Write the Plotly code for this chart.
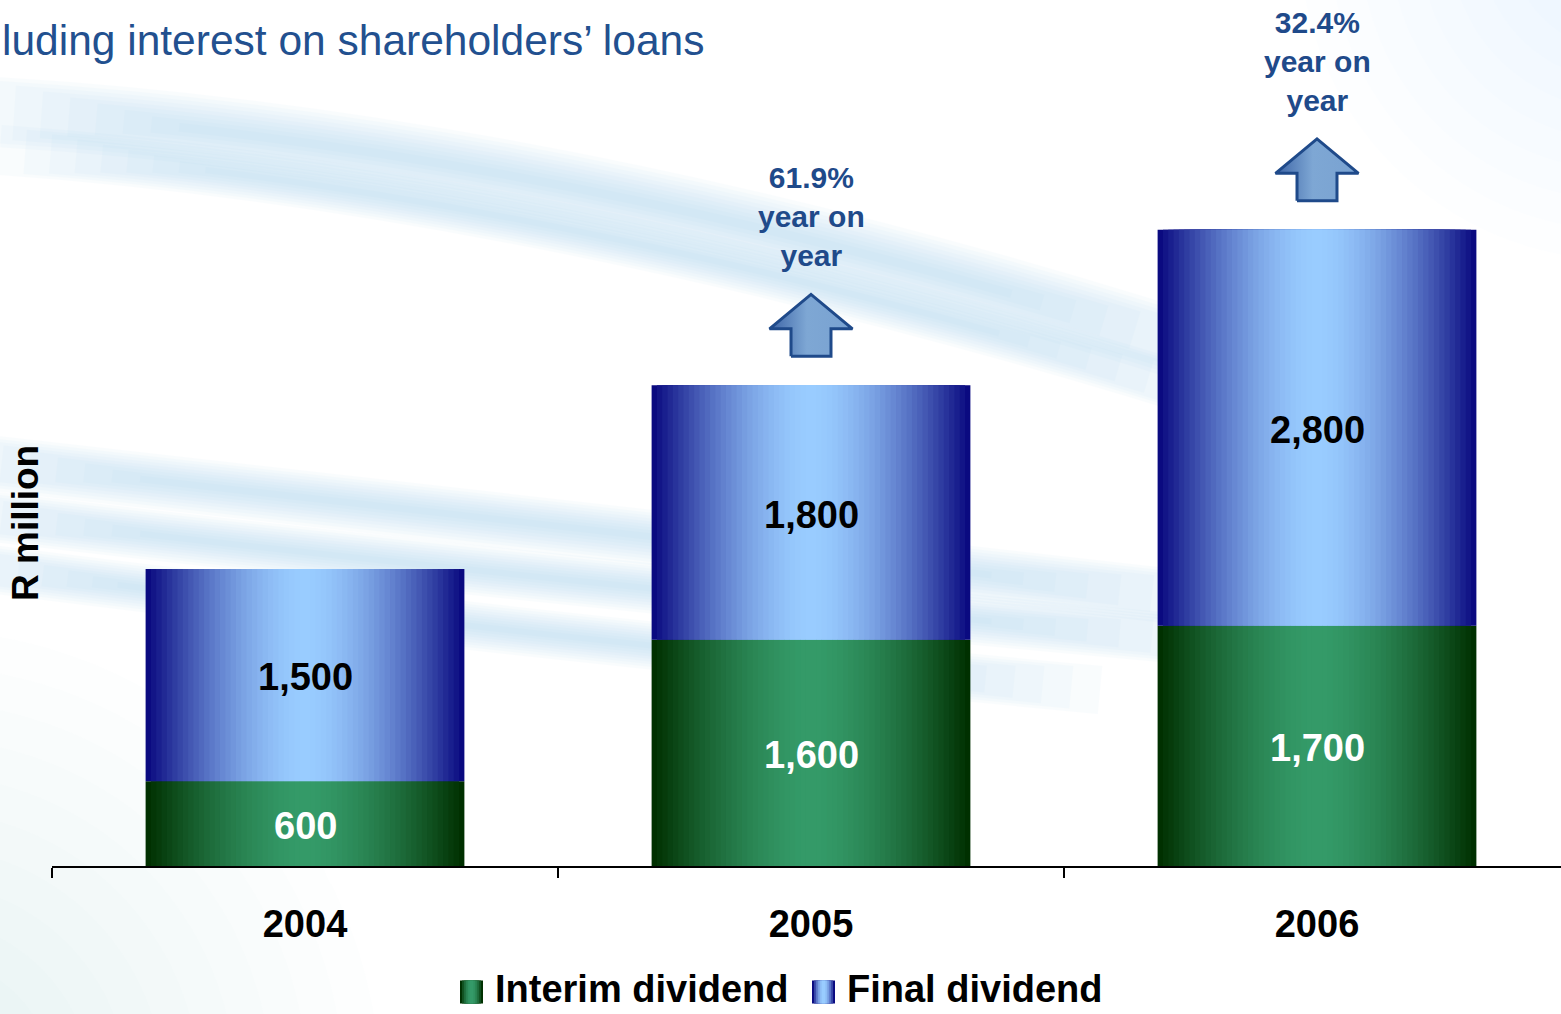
import plotly.graph_objects as go

# ---- data -------------------------------------------------------------
years = ["2004", "2005", "2006"]
interim_dividend = [600, 1600, 1700]
final_dividend = [1500, 1800, 2800]
growth_pct = [None, 61.9, 32.4]  # year-on-year growth of the total dividend

# ---- styling constants -----------------------------------------------
FONT = "Liberation Sans, Arial, sans-serif"
TEXT_BLUE = "#1F4A8A"
TITLE_BLUE = "#22508F"
BAR_W = 0.63
N_LAYERS = 30

W, H = 1561, 1014
ML, MR, MT, MB = 52, 0, 0, 148
PLOT_W = W - ML - MR
PLOT_H = H - MT - MB

x_pos = list(range(len(years)))
totals = [a + b for a, b in zip(interim_dividend, final_dividend)]


def mix(c0, c1, t):
    return "rgb({},{},{})".format(*[round(a + (b - a) * t) for a, b in zip(c0, c1)])


def ramp(edge, centre, k, n):
    t = k / (n - 1)
    t = 1 - (1 - t) ** 1.6
    return mix(edge, centre, t)


BLUE_EDGE, BLUE_CENTRE = (10, 10, 128), (153, 204, 255)
GREEN_EDGE, GREEN_CENTRE = (0, 48, 0), (52, 154, 104)


def px(x, y):
    """pixel position on the page -> paper coordinates"""
    return (x - ML) / PLOT_W, (MT + PLOT_H - y) / PLOT_H


fig = go.Figure()

# Stacked bars with a horizontal cylinder-like shading: nested bars that get
# narrower and lighter towards the centre of each column.
for k in range(N_LAYERS):
    w = BAR_W * (1 - k / N_LAYERS)
    fig.add_bar(
        x=x_pos, y=interim_dividend, width=w,
        marker=dict(color=ramp(GREEN_EDGE, GREEN_CENTRE, k, N_LAYERS), line_width=0),
        showlegend=False, hoverinfo="skip",
    )
    fig.add_bar(
        x=x_pos, y=final_dividend, base=interim_dividend, width=w,
        marker=dict(color=ramp(BLUE_EDGE, BLUE_CENTRE, k, N_LAYERS), line_width=0),
        showlegend=False, hoverinfo="skip",
    )

# value labels, centred in each segment
for i in x_pos:
    fig.add_annotation(
        x=i, y=interim_dividend[i] / 2, xref="x", yref="y", yshift=-2,
        text=f"{interim_dividend[i]:,}", showarrow=False,
        font=dict(family=FONT, size=38, color="white", weight="bold"),
    )
    fig.add_annotation(
        x=i, y=interim_dividend[i] + final_dividend[i] / 2, xref="x", yref="y", yshift=-2,
        text=f"{final_dividend[i]:,}", showarrow=False,
        font=dict(family=FONT, size=38, color="black", weight="bold"),
    )

# growth arrows above the bars
GAP, SHAFT_H, HEAD_H = 205, 194, 244          # in data units
SHAFT_HW, HEAD_HW = 0.0395, 0.082              # in category units
for i, g in enumerate(growth_pct):
    if g is None:
        continue
    y0 = totals[i] + GAP
    y1 = y0 + SHAFT_H
    y2 = y1 + HEAD_H
    xs = [i - SHAFT_HW, i + SHAFT_HW, i + SHAFT_HW, i + HEAD_HW, i, i - HEAD_HW, i - SHAFT_HW, i - SHAFT_HW]
    ys = [y0, y0, y1, y1, y2, y1, y1, y0]
    fig.add_scatter(
        x=xs, y=ys, mode="lines", fill="toself",
        line=dict(color=TEXT_BLUE, width=3),
        fillgradient=dict(type="horizontal",
                          colorscale=[[0, "#3c64a6"], [0.45, "#7ea7d4"], [1, "#79a2d1"]]),
        showlegend=False, hoverinfo="skip",
    )
    fig.add_annotation(
        x=i, y=y2, xref="x", yref="y", yanchor="bottom", yshift=20,
        text=f"<b>{g}%<br>year on<br>year</b>", showarrow=False,
        font=dict(family=FONT, size=30, color=TEXT_BLUE),
    )

# ---- decorative background swooshes ----------------------------------
shapes = []


def bez(p0, p1, p2, t):
    return tuple((1 - t) ** 2 * a + 2 * (1 - t) * t * b + t ** 2 * c for a, b, c in zip(p0, p1, p2))


def sub_quad(p0, p1, p2, t0, t1):
    s, e = bez(p0, p1, p2, t0), bez(p0, p1, p2, t1)
    c = tuple((1 - t0) * (1 - t1) * a + ((1 - t0) * t1 + t0 * (1 - t1)) * b + t0 * t1 * d
              for a, b, d in zip(p0, p1, p2))
    return s, c, e


def swoosh(p0, c, p1, wmax, color, n=9, op=0.045, taper=0.18):
    for j in range(n):
        f = j / (n - 1)
        s, cc, e = sub_quad(p0, c, p1, taper * f, 1 - taper * f)
        a, b, d = px(*s), px(*cc), px(*e)
        path = f"M {a[0]},{a[1]} Q {b[0]},{b[1]} {d[0]},{d[1]}"
        shapes.append(dict(type="path", path=path, xref="paper", yref="paper",
                           line=dict(color=color, width=max(2, wmax * (1 - 0.88 * f))),
                           opacity=op, layer="below"))


SW = "rgb(140,200,232)"
swoosh((-40, 110), (560, 140), (1260, 370), 70, SW)
swoosh((0, 150), (560, 190), (1240, 405), 50, SW)
swoosh((-80, 455), (520, 520), (1250, 605), 55, SW)
swoosh((-80, 508), (520, 580), (1250, 645), 50, SW)
swoosh((-80, 560), (460, 630), (1100, 690), 48, SW)

# soft haze in the lower-left and upper-right corners
for k in range(10):
    r = 460 - k * 36
    x0, y0 = px(-80 - r, 1090 - r)
    x1, y1 = px(-80 + r, 1090 + r)
    shapes.append(dict(type="circle", xref="paper", yref="paper", x0=x0, y0=y0, x1=x1, y1=y1,
                       fillcolor="rgb(150,205,232)", line_width=0, opacity=0.025, layer="below"))
for k in range(8):
    r = 320 - k * 30
    x0, y0 = px(1620 - r, -60 - r)
    x1, y1 = px(1620 + r, -60 + r)
    shapes.append(dict(type="circle", xref="paper", yref="paper", x0=x0, y0=y0, x1=x1, y1=y1,
                       fillcolor="rgb(170,215,238)", line_width=0, opacity=0.025, layer="below"))

# ---- legend (drawn as shaded swatches with labels) -----------------------
legend_items = [("Interim dividend", GREEN_EDGE, GREEN_CENTRE, 460),
                ("Final dividend", BLUE_EDGE, BLUE_CENTRE, 812)]
SWATCH = 23
LEG_Y = 989
for label, edge, centre, left in legend_items:
    n = 6
    for k in range(n):
        inset = (SWATCH / 2) * k / n
        x0, y0 = px(left + inset, LEG_Y + 3 + SWATCH / 2)
        x1, y1 = px(left + SWATCH - inset, LEG_Y + 3 - SWATCH / 2)
        shapes.append(dict(type="rect", xref="paper", yref="paper", x0=x0, y0=y0, x1=x1, y1=y1,
                           fillcolor=ramp(edge, centre, k, n), line_width=0))
    lx, ly = px(left + SWATCH + 11, LEG_Y)
    fig.add_annotation(x=lx, y=ly, xref="paper", yref="paper", xanchor="left", yanchor="middle",
                       text=label, showarrow=False, borderpad=0,
                       font=dict(family=FONT, size=38, color="black", weight="bold"))

# ---- title and axis title -----------------------------------------------
tx, ty = px(0, 40)
fig.add_annotation(x=tx, y=ty, xref="paper", yref="paper", xanchor="left", yanchor="middle",
                   text="luding interest on shareholders’ loans", showarrow=False,
                   font=dict(family=FONT, size=42.5, color=TITLE_BLUE))
ax_, ay_ = px(25, 523)
fig.add_annotation(x=ax_, y=ay_, xref="paper", yref="paper", xanchor="center", yanchor="middle",
                   text="R million", textangle=-90, showarrow=False,
                   font=dict(family=FONT, size=37, color="black", weight="bold"))

fig.update_layout(
    width=W, height=H, autosize=False,
    margin=dict(l=ML, r=MR, t=MT, b=MB, pad=0),
    barmode="overlay",
    paper_bgcolor="white", plot_bgcolor="rgba(0,0,0,0)",
    shapes=shapes,
    showlegend=False,
    xaxis=dict(
        range=[-0.5, 2.5 - 9 / 506], tickmode="array", tickvals=x_pos, ticktext=years,
        ticks="", showline=True, linecolor="black", linewidth=2,
        showgrid=False, zeroline=False, ticklabelstandoff=23,
        tickfont=dict(family=FONT, size=38, color="black", weight="bold"),
        minor=dict(tickmode="array", tickvals=[p - 0.5 for p in x_pos], ticks="outside",
                   ticklen=10, tickwidth=2, tickcolor="black", showgrid=False),
        fixedrange=True,
    ),
    yaxis=dict(range=[0, 6125], visible=False, fixedrange=True),
)

fig.write_html("out.html")
